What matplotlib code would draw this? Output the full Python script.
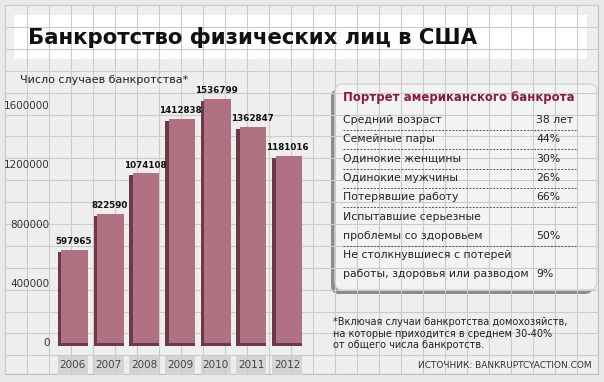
import matplotlib
matplotlib.use("Agg")
import matplotlib.pyplot as plt
from matplotlib.patches import Rectangle, FancyBboxPatch
from matplotlib.transforms import blended_transform_factory

# ---- data ----
years = ["2006", "2007", "2008", "2009", "2010", "2011", "2012"]
cases = [597965, 822590, 1074108, 1412838, 1536799, 1362847, 1181016]
y_ticks = [0, 400000, 800000, 1200000, 1600000]

title = "Банкротство физических лиц в США"
y_label = "Число случаев банкротства*"

panel_title = "Портрет американского банкрота"
portrait_labels = ["Средний возраст", "Семейные пары", "Одинокие женщины",
                   "Одинокие мужчины", "Потерявшие работу",
                   "Испытавшие серьезные\nпроблемы со здоровьем",
                   "Не столкнувшиеся с потерей\nработы, здоровья или разводом"]
portrait_values = ["38 лет", "44%", "30%", "26%", "66%", "50%", "9%"]

footnote = ("*Включая случаи банкротства домохозяйств,\n"
            "на которые приходится в среднем 30-40%\n"
            "от общего числа банкротств.")
source = "ИСТОЧНИК: BANKRUPTCYACTION.COM"

# ---- colours ----
FACE = "#b07282"
SIDE = "#6b3a48"
BG = "#eeeeee"
GRID = "#cbcbcb"

W, H = 604, 382
fig = plt.figure(figsize=(W / 100, H / 100), dpi=100)
fig.patch.set_facecolor("#e9e9e9")

# background axes in pixel coords (y down)
bg = fig.add_axes([0, 0, 1, 1])
bg.set_xlim(0, W)
bg.set_ylim(H, 0)
bg.axis("off")

bg.add_patch(Rectangle((5, 5), 593, 369, facecolor=BG, edgecolor="#c0c0c0", lw=0.8))
x = 5
while x <= 598:
    bg.plot([x, x], [5, 374], color=GRID, lw=0.8)
    x += 22
y = 5
while y <= 374:
    bg.plot([5, 598], [y, y], color=GRID, lw=0.8)
    y += 21.9

# title banner
bg.add_patch(Rectangle((14, 15), 573, 44, facecolor="white", edgecolor="none"))
bg.text(28, 38, title, fontsize=15.3, fontweight="heavy", color="#111111",
        va="center", ha="left")
bg.text(20, 80, y_label, fontsize=8, color="#222222", va="center", ha="left")

# ---- bar axes ----
px_per_m = 161.0
base = 346
top = base - 1.6 * px_per_m
ax = fig.add_axes([55 / W, 1 - base / H, 250 / W, (base - top) / H])
ax.set_xlim(-0.5, 6.5)
ax.set_ylim(0, 1600000)
ax.patch.set_alpha(0)
for s in ax.spines.values():
    s.set_visible(False)
ax.set_xticks([])
ax.set_yticks([])

ux = 7 / 250.0               # data units per pixel (x)
uy = 1600000 / (base - top)  # data units per pixel (y)
bw = 30 * ux
side = 3.5 * ux
bot = 3.5 * uy
pos = list(range(len(years)))

ax.bar(pos, [v - 2 * uy for v in cases], width=bw, color=SIDE, zorder=2)
ax.bar([p + side / 2 for p in pos], [v - bot for v in cases], bottom=bot,
       width=bw - side, color=FACE, zorder=3)
for p, v in zip(pos, cases):
    ax.annotate(str(v), (p, v), xytext=(0.5, 2.5), textcoords="offset points",
                ha="center", va="bottom", fontsize=6.3, fontweight="bold",
                color="#111111", annotation_clip=False)

# year boxes under bars
blend = blended_transform_factory(ax.transData, bg.transData)
for p, yr in zip(pos, years):
    bg.add_patch(Rectangle((p - bw / 2, 355), bw, 20, transform=blend,
                           facecolor="#d4d4d4", edgecolor="none", clip_on=False))
    bg.text(p, 365, yr, transform=blend, ha="center", va="center",
            fontsize=7.5, color="#444444")

# tick labels (drawn on their own scale, as in the original graphic)
tax = fig.add_axes([55 / W, 1 - 342 / H, 0.001, 237 / H])
tax.set_ylim(0, 1600000)
tax.set_xticks([])
tax.set_yticks(y_ticks)
tax.set_yticklabels([str(t) for t in y_ticks])
tax.tick_params(axis="y", length=0, pad=4, labelsize=7.5, labelcolor="#333333")
tax.patch.set_alpha(0)
for s in tax.spines.values():
    s.set_visible(False)

# ---- portrait panel ----
bg.add_patch(FancyBboxPatch((331, 89), 262, 205, boxstyle="round,pad=0,rounding_size=8",
                            facecolor="#8c8c8c", edgecolor="none"))
bg.add_patch(FancyBboxPatch((335, 84), 262, 206, boxstyle="round,pad=0,rounding_size=8",
                            facecolor="#f3f3f3", edgecolor="#d6d6d6", lw=1))
bg.text(343, 98, panel_title, fontsize=8.5, fontweight="bold", color="#8a1b3e",
        va="center", ha="left")

cur = 110.5
for i, (lab, val) in enumerate(zip(portrait_labels, portrait_values)):
    lines = lab.split("\n")
    for j, ln in enumerate(lines):
        bg.text(343, cur + 9.5 + 19 * j, ln, fontsize=7.8, color="#1e2626",
                va="center", ha="left")
    bg.text(536, cur + 9.5 + 19 * (len(lines) - 1), val, fontsize=7.8,
            color="#1e2626", va="center", ha="left")
    if i < len(portrait_labels) - 1:
        ly = cur + 19 * len(lines) + 0.5
        bg.plot([343, 576], [ly, ly], color="#555555", lw=0.7, linestyle=(0, (2, 1.5)))
    cur += 19.3 * len(lines)

# footnote and source
bg.text(333, 317, footnote, fontsize=7, color="#222222", va="top", ha="left",
        linespacing=1.2)
bg.text(592, 366, source, fontsize=6.5, color="#333333",
        va="center", ha="right")

fig.savefig("out.png", dpi=100, facecolor=fig.get_facecolor())
